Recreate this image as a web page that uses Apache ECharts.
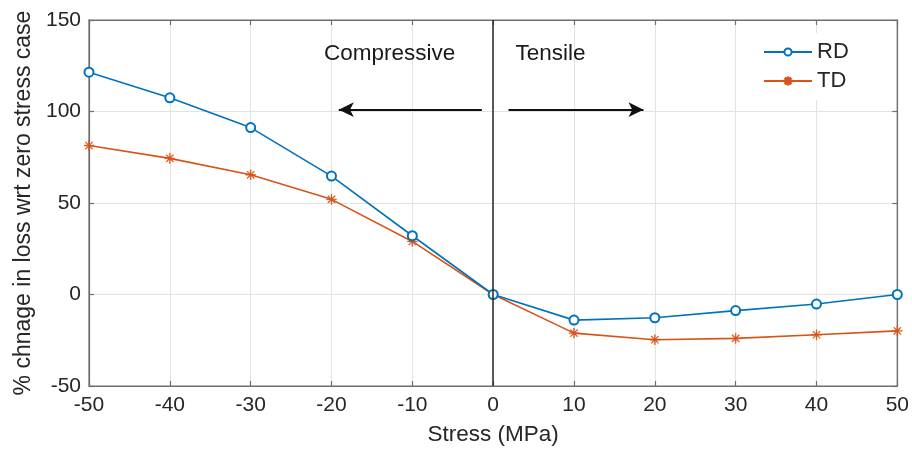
<!DOCTYPE html>
<html>
<head>
<meta charset="utf-8">
<script src="https://cdn.jsdelivr.net/npm/echarts@6/dist/echarts.min.js"></script>
<style>
  html, body { margin: 0; padding: 0; background: #ffffff; }
  #chart { width: 912px; height: 451px; }
</style>
</head>
<body>
<div id="chart"></div>
<script>
// Stress levels (MPa) and percentage change in loss relative to the zero-stress case
const stress = [-50, -40, -30, -20, -10, 0, 10, 20, 30, 40, 50];
const rdValues = [121.5, 107.5, 91.2, 64.7, 32.1, 0, -14.0, -12.7, -8.8, -5.2, 0];
const tdValues = [81.4, 74.4, 65.4, 52.0, 29.0, 0, -21.1, -24.7, -24.0, -22.0, -19.9];

// Region annotations: [label, x, y] in data units
const regionLabels = [['Compressive', -12.8, 131.7], ['Tensile', 7.1, 131.7]];
// Direction arrows: [fromX, toX, y] in data units
const arrows = [[-1.4, -19.1, 101], [1.9, 18.6, 101]];

const FONT = '"Liberation Sans", Arial, Helvetica, sans-serif';
const TEXT = '#262626';

// Eight-armed asterisk marker
const asterisk = 'path://M-0.9,-10L0.9,-10L0.9,10L-0.9,10Z' +
  'M-10,-0.9L10,-0.9L10,0.9L-10,0.9Z' +
  'M-7.7,-6.4L6.4,7.7L7.7,6.4L-6.4,-7.7Z' +
  'M-7.7,6.4L6.4,-7.7L7.7,-6.4L-6.4,7.7Z';

const pair = (xs, ys) => xs.map((x, i) => [x, ys[i]]);

const chart = echarts.init(document.getElementById('chart'), null, { renderer: 'canvas' });

const axisLine = { show: true, onZero: false, lineStyle: { color: '#6e6e6e', width: 1.2 } };
const tick = { show: true, inside: true, length: 5, lineStyle: { color: '#6e6e6e', width: 1.2 } };
const splitLine = { show: true, lineStyle: { color: '#e3e3e3', width: 1 } };

chart.setOption({
  animation: false,
  backgroundColor: '#ffffff',
  textStyle: { fontFamily: FONT },
  grid: { left: 89, right: 12, top: 20, bottom: 59, show: true, borderColor: '#6e6e6e', borderWidth: 1.2 },
  legend: {
    left: 755, top: 33,
    orient: 'vertical',
    itemWidth: 48, itemHeight: 9, itemGap: 7,
    padding: [8, 14, 8, 8],
    backgroundColor: '#ffffff',
    textStyle: { fontSize: 22, color: TEXT, fontFamily: FONT, padding: [0, 0, 0, 0] },
    data: ['RD', 'TD']
  },
  xAxis: [{
    type: 'value', min: -50, max: 50, interval: 10, position: 'bottom',
    name: 'Stress (MPa)', nameLocation: 'middle', nameGap: 37,
    nameTextStyle: { fontSize: 22.5, color: TEXT, fontFamily: FONT },
    axisLine, axisTick: tick, splitLine,
    axisLabel: { fontSize: 21, color: TEXT, margin: 9, fontFamily: FONT }
  }, {
    type: 'value', min: -50, max: 50, interval: 10, position: 'top',
    axisLine, axisTick: tick, splitLine: { show: false }, axisLabel: { show: false }
  }],
  yAxis: [{
    type: 'value', min: -50, max: 150, interval: 50, position: 'left',
    name: '% chnage in loss wrt zero stress case', nameLocation: 'middle', nameGap: 53,
    nameTextStyle: { fontSize: 23, color: TEXT, fontFamily: FONT },
    axisLine, axisTick: tick, splitLine,
    axisLabel: { fontSize: 21, color: TEXT, margin: 8, fontFamily: FONT }
  }, {
    type: 'value', min: -50, max: 150, interval: 50, position: 'right',
    axisLine, axisTick: tick, splitLine: { show: false }, axisLabel: { show: false }
  }],
  series: [{
    name: 'RD', type: 'line', data: pair(stress, rdValues),
    symbol: 'emptyCircle', symbolSize: 9,
    itemStyle: { color: '#0072BD', borderWidth: 1.5 },
    lineStyle: { color: '#0072BD', width: 1.6 },
    z: 4,
    markLine: {
      silent: true, symbol: 'none',
      lineStyle: { color: '#262626', width: 1.5, type: 'solid' },
      label: { show: false },
      data: [{ xAxis: 0 }]
    }
  }, {
    name: 'TD', type: 'line', data: pair(stress, tdValues),
    symbol: asterisk, symbolSize: 10,
    itemStyle: { color: '#D95319', borderColor: '#D95319', borderWidth: 0.4 },
    lineStyle: { color: '#D95319', width: 1.6 },
    z: 3,
    markLine: {
      silent: true, symbol: ['none', 'arrow'], symbolSize: [11, 15],
      lineStyle: { color: '#111111', width: 2, type: 'solid' },
      label: { show: false },
      data: arrows.map(a => [{ coord: [a[0], a[2]] }, { coord: [a[1], a[2]] }])
    }
  }, {
    // Region captions
    name: 'regions', type: 'scatter', silent: true,
    data: regionLabels.map(r => ({ value: [r[1], r[2]], name: r[0] })),
    symbol: 'circle', symbolSize: 0,
    itemStyle: { color: TEXT, opacity: 1 },
    label: {
      show: true, position: [0, 0], align: 'center', verticalAlign: 'middle',
      formatter: p => p.name,
      fontSize: 22.5, color: '#1a1a1a', fontFamily: FONT,
      textBorderWidth: 0, opacity: 1
    },
    z: 5
  }]
});
</script>
</body>
</html>
